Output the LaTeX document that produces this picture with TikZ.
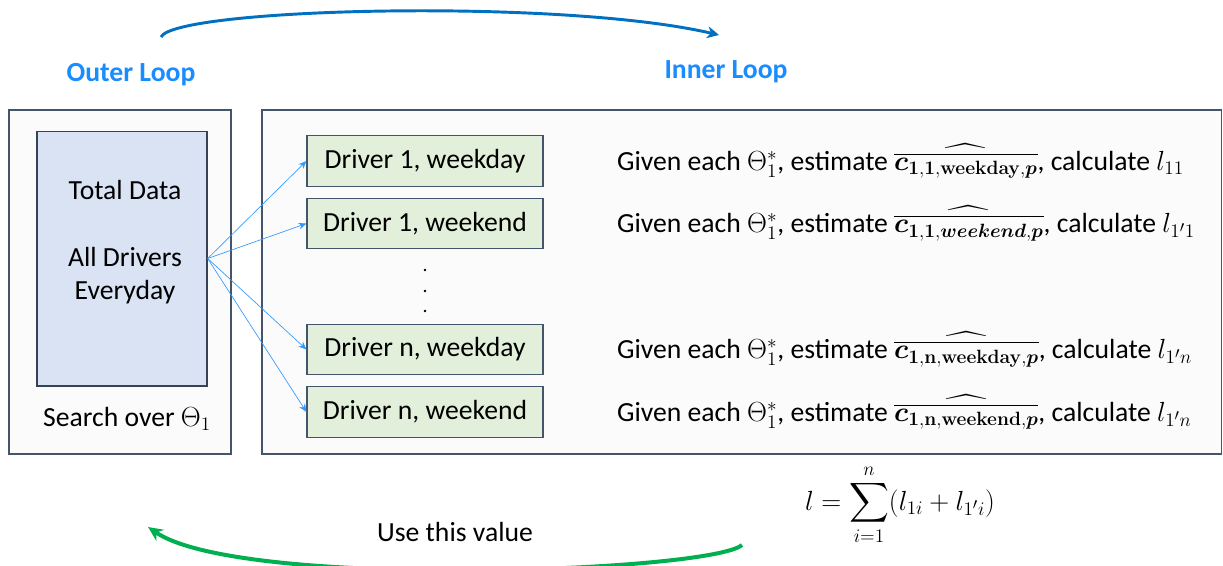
\documentclass[tikz,border=0pt]{standalone}
\usepackage[no-math]{fontspec}
\setmainfont{Carlito}
\usepackage{amsmath,bm}
\usepackage{tikz}
\usetikzlibrary{arrows.meta,positioning}
\definecolor{frameslate}{RGB}{68,84,106}
\definecolor{panelgray}{RGB}{251,251,251}
\definecolor{datablue}{RGB}{218,227,243}
\definecolor{drivergreen}{RGB}{226,239,218}
\definecolor{fanblue}{RGB}{51,153,255}
\definecolor{loopblue}{RGB}{0,112,192}
\definecolor{labelblue}{RGB}{25,140,255}
\definecolor{backgreen}{RGB}{0,176,80}
\newcommand{\bigtxt}{\fontsize{20.74}{25}\selectfont}
\newcommand{\chat}[1]{\widehat{\overline{\boldsymbol{c}_{#1}}}}

\begin{document}
\begin{tikzpicture}[
  x=0.75pt,y=-0.75pt,
  node distance=55pt,
  panel/.style={rectangle,draw=frameslate,fill=panelgray,line width=1pt,
    minimum height=258pt,inner sep=0pt},
  databox/.style={rectangle,draw=frameslate!80!black,fill=datablue,line width=1pt,
    minimum width=127.5pt,minimum height=191pt,inner sep=0pt},
  drvbox/.style={rectangle,draw=frameslate,fill=drivergreen,line width=0.8pt,
    minimum width=177pt,minimum height=38pt,inner sep=0pt,font=\bigtxt},
  est/.style={anchor=west,font=\bigtxt,inner sep=0pt},
  fan/.style={-{Stealth[length=6pt,width=5pt]},fanblue,line width=0.5pt},
  looplbl/.style={font=\bigtxt\bfseries,text=labelblue},
]
  \path[use as bounding box,fill=white] (0,0) rectangle (1223,565);

  % the two panels
  \node[panel,minimum width=166.5pt] (outer) at (120,282) {};
  \node[panel,minimum width=719.5pt] (inner) at (741.5,282) {};
  \node[databox] (data) at (122,258.5) {};
  \node[font=\bigtxt] (total) at (125,190) {Total Data};
  \node[font=\bigtxt,align=center] (all) at (125,275.5) {All Drivers\\Everyday};
  \node[font=\bigtxt] (search) at (127,419) {Search over $\Theta_1$};

  % driver subsets
  \node[drvbox] (d1) at (425,161) {Driver 1, weekday};
  \node[drvbox] (d2) at (425,223.5) {Driver 1, weekend};
  \node[drvbox] (d3) at (425,349.5) {Driver n, weekday};
  \node[drvbox] (d4) at (425,412) {Driver n, weekend};
  \foreach \y in {270,291,311}
    \fill (425,\y) circle (1pt);
  \foreach \n in {d1,d2,d3,d4}
    \draw[fan] (data.east) -- (\n.west);

  \node[est,right=of d1] (e1) {Given each $\Theta_1^*$, estimate $\chat{\mathbf{1,1,weekday},\boldsymbol{p}}$, calculate $l_{11}$};
  \node[est,right=of d2] (e2) {Given each $\Theta_1^*$, estimate $\chat{\mathbf{1,1},\boldsymbol{weekend},\boldsymbol{p}}$, calculate $l_{1'1}$};
  \node[est,right=of d3] (e3) {Given each $\Theta_1^*$, estimate $\chat{\mathbf{1,n,weekday},\boldsymbol{p}}$, calculate $l_{1'n}$};
  \node[est,right=of d4] (e4) {Given each $\Theta_1^*$, estimate $\chat{\mathbf{1,n,weekend},\boldsymbol{p}}$, calculate $l_{1'n}$};

  % loops
  \node[looplbl] (outerlbl) at (131,75) {Outer Loop};
  \node[looplbl] (innerlbl) at (726,72) {Inner Loop};
  \coordinate (topA) at (161,37);
  \coordinate (topB) at (719,35);
  \draw[loopblue,line width=2.2pt,-{Stealth[length=9pt,width=9pt]}]
    (topA) .. controls (175,8) and (560,-2) .. (topB);

  \node[font=\bigtxt] (usethis) at (455,532) {Use this value};
  \node[font=\bigtxt,inner sep=0pt] (lossum) at (900,505) {$\displaystyle l=\sum_{i=1}^{n}(l_{1i}+l_{1'i})$};
  \coordinate (botA) at (742,545);
  \coordinate (botB) at (148,527);
  \draw[backgreen,line width=3pt,-{Stealth[length=11pt,width=10pt]}]
    (botA) .. controls (710,572) and (240,590) .. (botB);
\end{tikzpicture}
\end{document}
